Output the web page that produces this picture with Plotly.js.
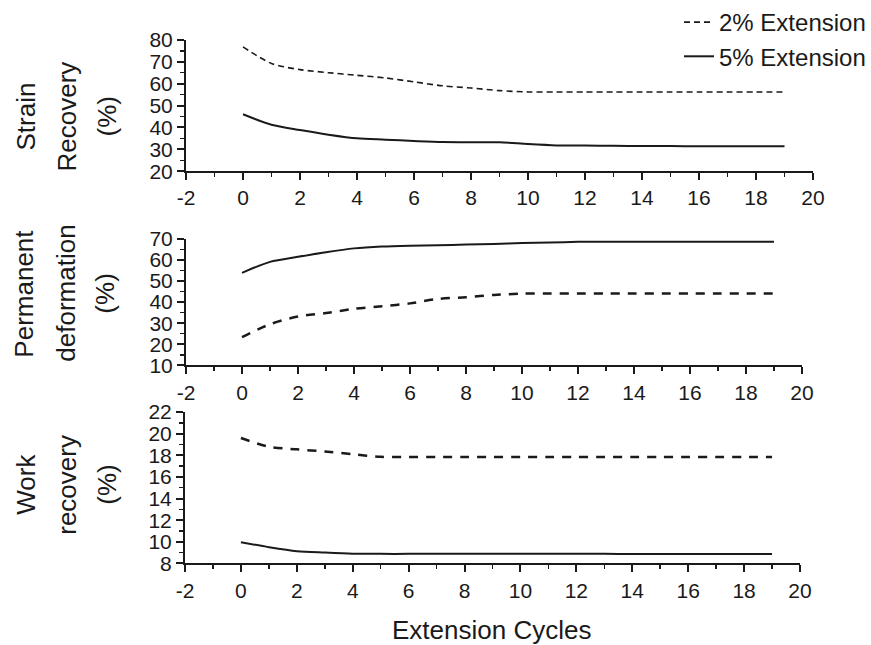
<!DOCTYPE html>
<html>
<head>
<meta charset="utf-8">
<script src="https://cdn.plot.ly/plotly-3.0.1.min.js"></script>
<style>html,body{margin:0;padding:0;background:#fff;}#chart{width:871px;height:645px;}</style>
</head>
<body>
<div id="chart"></div>
<script>
// ---- data ----
const cycles = [0,1,2,3,4,5,6,7,8,9,10,11,12,13,14,15,16,17,18,19];
const strainRecovery2 = [76.8,69.2,66.4,65.0,63.8,62.6,60.8,59.0,58.0,56.8,56.2,56.2,56.2,56.2,56.2,56.2,56.2,56.2,56.2,56.2];
const strainRecovery5 = [46.0,41.2,38.8,36.7,35.0,34.4,33.8,33.3,33.2,33.2,32.4,31.8,31.7,31.6,31.5,31.5,31.4,31.4,31.4,31.4];
const permDeform2 = [23.4,29.5,33.2,34.8,36.8,38.0,39.4,41.5,42.3,43.4,44.0,44.1,44.1,44.1,44.1,44.1,44.1,44.1,44.1,44.1];
const permDeform5 = [53.9,59.1,61.5,63.7,65.5,66.4,66.8,67.0,67.3,67.6,68.0,68.3,68.6,68.7,68.7,68.7,68.7,68.7,68.7,68.7];
const workRecovery2 = [19.6,18.8,18.55,18.35,18.1,17.86,17.85,17.85,17.85,17.85,17.85,17.85,17.85,17.85,17.85,17.85,17.85,17.85,17.85,17.85];
const workRecovery5 = [9.96,9.5,9.13,9.0,8.9,8.88,8.88,8.88,8.88,8.88,8.88,8.88,8.88,8.88,8.87,8.87,8.87,8.87,8.87,8.87];
const seriesNames = ["2% Extension","5% Extension"];
const panelTitles = [["Strain","Recovery","(%)"],["Permanent","deformation","(%)"],["Work","recovery","(%)"]];
const xTitle = "Extension Cycles";
const xTickVals = [-2,0,2,4,6,8,10,12,14,16,18,20];
const xTickLabels = ["-2","0","2","4","6","8","10","12","14","16","18","20"];

// ---- layout helpers ----
const W = 871, H = 645;
const px = v => v / W;
const py = v => 1 - v / H;
const FONT = "Liberation Sans, Arial, Helvetica, sans-serif";
const INK = "#1a1a1a";

function xAxis(anchor, d0, d1) {
  return {
    domain: [px(d0), px(d1)], anchor: anchor, range: [-2, 20],
    tickmode: "array", tickvals: xTickVals, ticktext: xTickLabels,
    ticks: "outside", ticklen: 7, tickwidth: 2, tickcolor: INK,
    minor: {ticks: "outside", tickmode: "linear", tick0: -1, dtick: 1, ticklen: 4, tickwidth: 1.5, tickcolor: INK},
    showline: true, linecolor: INK, linewidth: 2,
    showgrid: false, zeroline: false,
    tickfont: {family: FONT, size: 21, color: INK}
  };
}
function yAxis(anchor, top, bottom, range, dtick, minorDtick) {
  return {
    domain: [py(bottom), py(top)], anchor: anchor, range: range,
    tickmode: "linear", tick0: range[0], dtick: dtick,
    ticks: "outside", ticklen: 7, tickwidth: 2, tickcolor: INK,
    minor: {ticks: "outside", dtick: minorDtick, ticklen: 4, tickwidth: 1.5, tickcolor: INK},
    showline: true, linecolor: INK, linewidth: 2,
    showgrid: false, zeroline: false,
    tickfont: {family: FONT, size: 21, color: INK}
  };
}

const SM = 0.8;
const traces = [
  {x: cycles, y: strainRecovery2, xaxis: "x", yaxis: "y", name: seriesNames[0], legendgroup: "a",
   mode: "lines", line: {color: INK, width: 1.6, dash: "6px,4px", shape: "spline", smoothing: SM}},
  {x: cycles, y: strainRecovery5, xaxis: "x", yaxis: "y", name: seriesNames[1], legendgroup: "b",
   mode: "lines", line: {color: INK, width: 2, shape: "spline", smoothing: SM}},
  {x: cycles, y: permDeform2, xaxis: "x2", yaxis: "y2", name: seriesNames[0], legendgroup: "a", showlegend: false,
   mode: "lines", line: {color: INK, width: 2.5, dash: "9px,8px", shape: "spline", smoothing: SM}},
  {x: cycles, y: permDeform5, xaxis: "x2", yaxis: "y2", name: seriesNames[1], legendgroup: "b", showlegend: false,
   mode: "lines", line: {color: INK, width: 2, shape: "spline", smoothing: SM}},
  {x: cycles, y: workRecovery2, xaxis: "x3", yaxis: "y3", name: seriesNames[0], legendgroup: "a", showlegend: false,
   mode: "lines", line: {color: INK, width: 2.5, dash: "9px,8px", shape: "spline", smoothing: SM}},
  {x: cycles, y: workRecovery5, xaxis: "x3", yaxis: "y3", name: seriesNames[1], legendgroup: "b", showlegend: false,
   mode: "lines", line: {color: INK, width: 2, shape: "spline", smoothing: SM}}
];

// y-title annotations: three lines per panel
const titleX = [[26, 67, 107], [24, 66, 105], [26, 67, 107]];
const titleY = [114, 292, 484];
const annotations = [];
panelTitles.forEach((lines, p) => {
  lines.forEach((t, i) => {
    annotations.push({
      text: t, xref: "paper", yref: "paper", x: px(titleX[p][i]), y: py(titleY[p]),
      xanchor: "center", yanchor: "middle", textangle: -90, showarrow: false,
      font: {family: FONT, size: 26, color: INK}
    });
  });
});
annotations.push({
  text: xTitle, xref: "paper", yref: "paper", x: px(491), y: py(630),
  xanchor: "center", yanchor: "middle", showarrow: false,
  font: {family: FONT, size: 26, color: INK}
});

const layout = {
  width: W, height: H,
  margin: {l: 0, r: 0, t: 0, b: 0},
  paper_bgcolor: "#fff", plot_bgcolor: "#fff",
  showlegend: true,
  legend: {x: 1, xanchor: "right", y: 1.005, yanchor: "top",
           font: {family: FONT, size: 24, color: INK}, bgcolor: "rgba(0,0,0,0)",
           tracegroupgap: 0, itemwidth: 30},
  xaxis: xAxis("y", 186, 813),
  yaxis: yAxis("x", 37, 169, [20, 80], 10, 5),
  xaxis2: xAxis("y2", 186, 802),
  yaxis2: yAxis("x2", 237, 364, [10, 70], 10, 5),
  xaxis3: xAxis("y3", 185, 800),
  yaxis3: yAxis("x3", 411, 563, [8, 22], 2, 1),
  annotations: annotations
};

Plotly.newPlot("chart", traces, layout, {displayModeBar: false, staticPlot: true});
</script>
</body>
</html>
